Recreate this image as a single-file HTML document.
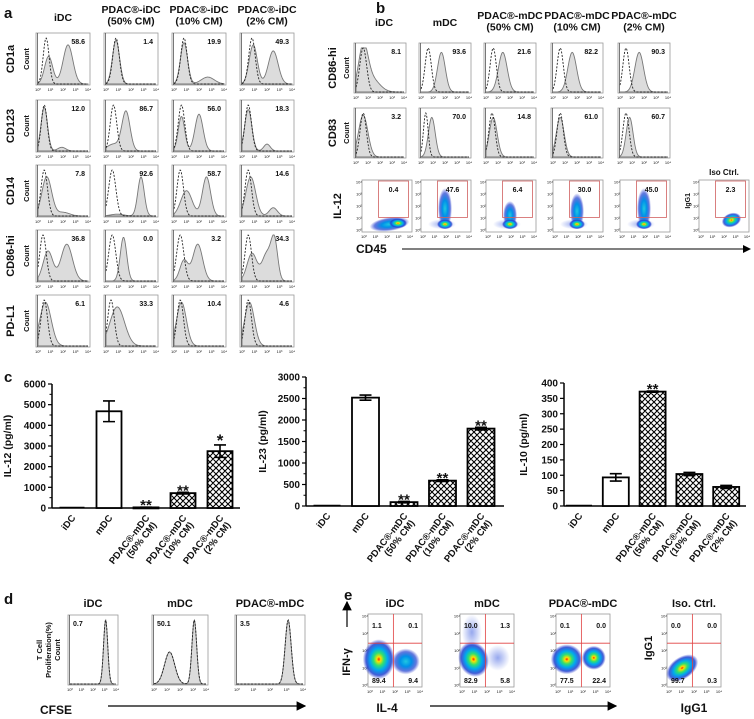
<!DOCTYPE html>
<html><head><meta charset="utf-8">
<style>
html,body{margin:0;padding:0;background:#fff;}
svg{display:block;font-family:"Liberation Sans",Arial,sans-serif;}
</style></head>
<body>
<svg id="fig" width="754" height="719" viewBox="0 0 754 719" xmlns="http://www.w3.org/2000/svg">
<defs>
<pattern id="hatch" patternUnits="userSpaceOnUse" width="6" height="6">
<rect width="6" height="6" fill="#fff"/>
<path d="M0,0 L6,6 M6,0 L0,6 M-1,5 L1,7 M5,-1 L7,1 M-1,1 L1,-1 M5,7 L7,5" stroke="#000" stroke-width="1.1"/>
</pattern>
<radialGradient id="dens">
<stop offset="0" stop-color="#ff2000"/>
<stop offset="0.12" stop-color="#ffe000"/>
<stop offset="0.32" stop-color="#30e070"/>
<stop offset="0.55" stop-color="#00a8f0"/>
<stop offset="0.8" stop-color="#2040d0" stop-opacity="0.85"/>
<stop offset="1" stop-color="#3040d0" stop-opacity="0"/>
</radialGradient>
<radialGradient id="densLow">
<stop offset="0" stop-color="#20c8e0"/>
<stop offset="0.4" stop-color="#0090e8"/>
<stop offset="0.75" stop-color="#2040d0" stop-opacity="0.7"/>
<stop offset="1" stop-color="#3040d0" stop-opacity="0"/>
</radialGradient>
<radialGradient id="scat">
<stop offset="0" stop-color="#4060e0" stop-opacity="0.55"/>
<stop offset="1" stop-color="#4060e0" stop-opacity="0"/>
</radialGradient>
<marker id="arr" markerWidth="8" markerHeight="8" refX="7" refY="4" orient="auto"><path d="M0,0 L8,4 L0,8 z" fill="#000"/></marker>
</defs>
</svg>
<script>
// ===== Bar chart data (panel c) =====
const categories = ["iDC","mDC","PDAC®-mDC|(50% CM)","PDAC®-mDC|(10% CM)","PDAC®-mDC|(2% CM)"];
const il12Values = [0, 4680, 30, 720, 2750];
const il12Errors = [0, 500, 10, 40, 300];
const il12Stars = ["", "", "**", "**", "*"];
const il12Ticks = [0, 1000, 2000, 3000, 4000, 5000, 6000];
const il23Values = [0, 2520, 90, 590, 1800];
const il23Errors = [0, 60, 15, 20, 30];
const il23Stars = ["", "", "**", "**", "**"];
const il23Ticks = [0, 500, 1000, 1500, 2000, 2500, 3000];
const il10Values = [2, 93, 372, 104, 62];
const il10Errors = [0, 12, 2, 5, 5];
const il10Stars = ["", "", "**", "", ""];
const il10Ticks = [0, 50, 100, 150, 200, 250, 300, 350, 400];

// ===== Histogram peak data [log position, relative height, width] =====
const aRows = ["CD1a","CD123","CD14","CD86-hi","PD-L1"];
const aCols = ["iDC","PDAC®-iDC|(50% CM)","PDAC®-iDC|(10% CM)","PDAC®-iDC|(2% CM)"];
const aPercents = [["58.6","1.4","19.9","49.3"],["12.0","86.7","56.0","18.3"],["7.8","92.6","58.7","14.6"],["36.8","0.0","3.2","34.3"],["6.1","33.3","10.4","4.6"]];
const aIso = [
 [[[0.65,1,0.18]],[[0.8,1,0.2]],[[0.8,1,0.2]],[[0.8,1,0.2]]],
 [[[0.5,1,0.18]],[[0.6,1,0.2]],[[0.6,1,0.2]],[[0.5,1,0.2]]],
 [[[0.5,1,0.2]],[[0.5,1,0.22]],[[0.5,1,0.2]],[[0.5,1,0.2]]],
 [[[0.4,1,0.2]],[[0.5,1,0.22]],[[0.5,1,0.22]],[[0.5,1,0.2]]],
 [[[0.5,1,0.2]],[[0.4,1,0.2]],[[0.5,1,0.2]],[[0.5,1,0.2]]]
];
const aSample = [
 [[[0.85,0.6,0.25],[2.4,0.85,0.3]],[[0.8,0.95,0.22]],[[0.8,0.9,0.22],[2.7,0.15,0.4]],[[0.9,0.85,0.25],[2.5,0.72,0.3]]],
 [[[0.5,0.95,0.2],[1.9,0.08,0.25]],[[0.6,0.15,0.4],[1.6,0.85,0.25]],[[0.6,0.75,0.2],[2.0,0.8,0.25]],[[0.5,0.9,0.22],[2.0,0.15,0.2]]],
 [[[0.7,0.85,0.3],[2.0,0.08,0.4]],[[2.8,0.85,0.2],[0.9,0.04,0.4]],[[1.0,0.55,0.35],[2.6,0.85,0.25]],[[0.7,0.85,0.3],[2.5,0.18,0.25]]],
 [[[0.8,0.65,0.3],[2.3,0.8,0.35]],[[1.4,0.95,0.2]],[[0.8,0.45,0.25],[1.9,0.8,0.3]],[[0.8,0.6,0.3],[2.0,0.6,0.3],[2.6,0.8,0.2]]],
 [[[0.6,0.95,0.35]],[[0.9,0.85,0.45]],[[0.6,0.95,0.3]],[[0.6,0.95,0.3]]]
];
const bCols = ["iDC","mDC","PDAC®-mDC|(50% CM)","PDAC®-mDC|(10% CM)","PDAC®-mDC|(2% CM)"];
const bRows = ["CD86-hi","CD83"];
const bPercents = [["8.1","93.6","21.6","82.2","90.3"],["3.2","70.0","14.8","61.0","60.7"]];
const bIl12Percents = ["0.4","47.6","6.4","30.0","45.0","2.3"];
const bIso = [
 [[[0.6,1,0.22]],[[0.6,1,0.2]],[[0.6,1,0.2]],[[0.6,1,0.2]],[[0.5,1,0.2]]],
 [[[0.6,1,0.2]],[[0.4,1,0.15]],[[0.5,1,0.2]],[[0.6,1,0.2]],[[0.5,1,0.2]]]
];
const bSample = [
 [[[0.6,0.95,0.3],[1.3,0.3,0.5]],[[1.7,0.9,0.25]],[[1.4,0.9,0.28]],[[1.6,0.9,0.28]],[[1.6,0.9,0.28]]],
 [[[0.6,0.95,0.3]],[[0.9,0.9,0.22]],[[0.6,0.9,0.25]],[[0.6,0.9,0.25]],[[0.8,0.9,0.22]]]
];
const dCols = ["iDC","mDC","PDAC®-mDC"];
const dPercents = ["0.7","50.1","3.5"];
const dPeaks = [[[3.1,1,0.14]],[[1.2,0.5,0.3],[3.1,1,0.14]],[[3.1,1,0.14]]];
const eCols = ["iDC","mDC","PDAC®-mDC","Iso. Ctrl."];
const eQuads = [["1.1","0.1","89.4","9.4"],["10.0","1.3","82.9","5.8"],["0.1","0.0","77.5","22.4"],["0.0","0.0","99.7","0.3"]];

const NS = "http://www.w3.org/2000/svg";
const svg = document.getElementById('fig');
function mk(tag, attrs, parent){
  const el = document.createElementNS(NS, tag);
  for (const k in attrs) el.setAttribute(k, attrs[k]);
  (parent||svg).appendChild(el);
  return el;
}
function txt(x,y,s,size,opts,parent){
  opts = opts||{};
  const el = mk('text',{x:x,y:y,'font-size':size,'font-weight':opts.w||'bold','text-anchor':opts.a||'middle',fill:'#111'},parent);
  if (opts.t) el.setAttribute('transform',opts.t);
  el.textContent = s;
  return el;
}
const WIDTH_SCALE = 1.3;
function gauss(peaks, v){
  let s=0; for (const p of peaks) s += p[1]*Math.exp(-0.5*Math.pow((v-p[0])/(p[2]*WIDTH_SCALE),2));
  return Math.min(s,1);
}
function tickLabels(x,y,w,parent){
  const sup=["⁰","¹","²","³","⁴"];
  for (let i=0;i<5;i++){
    const t = txt(x+i*w/4, y, "10"+sup[i], 4, {w:'normal'}, parent);
    
    
  }
}
function hist(x,y,w,h,iso,samp,pct,name,pctLeft){
  const g = mk('g',{});
  
  
  const box = mk('rect',{x:x,y:y,width:w,height:h,fill:'#fff',stroke:'#999','stroke-width':0.8},g);
  
  
  const base = y+h-1, N=90;
  const xs = v=>x+2+v/4*(w-4);
  let d = "M"+xs(0)+","+base;
  for (let i=0;i<=N;i++){ const v=4*i/N; d += " L"+xs(v).toFixed(2)+","+(base - gauss(samp,v)*(h-6)).toFixed(2); }
  d += " L"+xs(4)+","+base+" Z";
  const sp = mk('path',{d:d,fill:'#dcdcdc',stroke:'#777','stroke-width':0.9},g);
  
  
  if (iso){
    let di = "";
    for (let i=0;i<=N;i++){ const v=4*i/N; di += (i?" L":"M")+xs(v).toFixed(2)+","+(base - gauss(iso,v)*(h-6)).toFixed(2); }
    const ip = mk('path',{d:di,fill:'none',stroke:'#222','stroke-width':0.9,'stroke-dasharray':'2,1.5'},g);
    
    
  }
  const axl = mk('line',{x1:x+1.5,y1:y,x2:x+1.5,y2:y+h,stroke:'#555','stroke-width':0.8},g);
  
  
  const t = pctLeft ? txt(x+5,y+11,pct,7,{a:'start'},g) : txt(x+w-5,y+11,pct,7,{a:'end'},g);
  
  
  tickLabels(x+2,y+h+6,w-4,g);
}
function blob(g,cx,cy,rx,ry,grad,rot){
  const e = mk('ellipse',{cx:cx,cy:cy,rx:rx,ry:ry,fill:'url(#'+grad+')'},g);
  if (rot) e.setAttribute('transform','rotate('+rot+' '+cx+' '+cy+')');
  
  
}
function dotBox(x,y,w,h,name){
  const g = mk('g',{});
  
  
  const r = mk('rect',{x:x,y:y,width:w,height:h,fill:'#fff',stroke:'#999','stroke-width':0.8},g);
  
  
  tickLabels(x+2,y+h+6,w-4,g);
  const sup=["⁰","¹","²","³","⁴"];
  for (let i=0;i<5;i++){
    const t = txt(x-3, y+h-2-i*(h-4)/4+1.5, "10"+sup[i], 4, {w:'normal'}, g);
    
    
  }
  return g;
}
function header(x,y,s,size,name){
  const parts = s.split('|');
  parts.forEach((p,i)=>{
    const t = txt(x,y+i*size*1.1,p,size,{});
    
    
  });
}

// ===== Panel letters =====
[["a",4,18],["b",376,13],["c",4,382],["d",4,604],["e",344,600]].forEach(p=>{
  const t = txt(p[1],p[2],p[0],15,{a:'start'});
  
  
});

// ===== Panel a =====
const aX = [36,104,172,240], aY = [33,100,165,230,295], aW=54, aH=52;
aCols.forEach((c,j)=>{ header(aX[j]+aW/2, c.includes('|')?13:21, c, 10.5, 'column-header'); });
aRows.forEach((r,i)=>{
  const cy = aY[i]+aH/2;
  const t1 = txt(14,cy,r,11,{t:'rotate(-90 14 '+cy+')'});
  
  
  const t2 = txt(29,cy,"Count",7.5,{t:'rotate(-90 29 '+cy+')'});
  
  
  aCols.forEach((c,j)=>{ hist(aX[j],aY[i],aW,aH,aIso[i][j],aSample[i][j],aPercents[i][j],'histogram-'+r.toLowerCase()); });
});

// ===== Panel b =====
const bX = [354,419,484,551,618], bY=[43,108], bW=52, bH=50;
bCols.forEach((c,j)=>{ header(bX[j]+bW/2+(j===0?4:0), c.includes('|')?19:26, c, 10.5, 'column-header'); });
bRows.forEach((r,i)=>{
  const cy = bY[i]+bH/2;
  const t1 = txt(336,cy,r,11,{t:'rotate(-90 336 '+cy+')'});
  
  
  const t2 = txt(349,cy,"Count",7.5,{t:'rotate(-90 349 '+cy+')'});
  
  
  bCols.forEach((c,j)=>{ hist(bX[j],bY[i],bW,bH,bIso[i][j],bSample[i][j],bPercents[i][j],'histogram-'+r.toLowerCase()); });
});
// dot plots row
const dX = [362,421,486,553,620,699], dYt=180, dW=50, dH=52;
const il12 = txt(341,206,"IL-12",11,{t:'rotate(-90 341 206)'});


dX.forEach((x,j)=>{
  const g = dotBox(x,dYt,dW,dH,'il12-dot-plot');
  const by = dYt+dH*0.85, bx = x+dW*0.72;
  if (j===0){ blob(g,x+dW*0.55,by,20,7,'densLow',-8); blob(g,bx,by-1,9,5,'dens',0); }
  else if (j===5){ blob(g,x+dW*0.65,dYt+dH*0.77,10,7,'dens',-20); }
  else {
    const streak = [0,0.6,0.35,0.5,0.6][j];
    blob(g,x+dW*0.48,dYt+dH*(0.85-streak/2),7,dH*streak/2+5,'densLow',0);
    blob(g,x+dW*0.42,by,14,5,'scat',0);
    blob(g,x+dW*0.48,by,8,5,'dens',0);
  }
  const gate = mk('rect',{x:x+dW*0.33,y:dYt+1,width:dW*0.6,height:dH*0.7,fill:'none',stroke:'#d06060','stroke-width':0.8},g);
  
  
  const t = txt(x+dW*0.63,dYt+12,bIl12Percents[j],7,{},g);
  
  
  if (j===5){
    const ig = txt(x-9,dYt+dH*0.4,"IgG1",7,{t:'rotate(-90 '+(x-9)+' '+(dYt+dH*0.4)+')'});
    
    
    const iso = txt(x+dW/2,dYt-5,"Iso Ctrl.",8);
    
    
  }
});
const cd45 = txt(356,253,"CD45",12,{a:'start'});


const arrB = mk('line',{x1:402,y1:249,x2:750,y2:249,stroke:'#000','stroke-width':1,'marker-end':'url(#arr)'});



// ===== Panel c bar charts =====
function barChart(cfg){
  const g = mk('g',{});
  
  
  const yMax = cfg.ticks[cfg.ticks.length-1];
  const yS = v => cfg.y0 - v/yMax*(cfg.y0-cfg.yTop);
  const xS = i => cfg.first + i*cfg.pitch;
  const ya = mk('line',{x1:cfg.ax,y1:cfg.yTop,x2:cfg.ax,y2:cfg.y0,stroke:'#000','stroke-width':1.5},g);
  
  
  const xa = mk('line',{x1:cfg.ax,y1:cfg.y0,x2:cfg.end,y2:cfg.y0,stroke:'#000','stroke-width':1.5},g);
  
  
  cfg.ticks.forEach((t,k)=>{
    const y = yS(t);
    const tk = mk('line',{x1:cfg.ax-4,y1:y,x2:cfg.ax,y2:y,stroke:'#000','stroke-width':1.2},g);
    
    
    const lb = txt(cfg.ax-6,y+3.5,String(t),10,{a:'end'},g);
    
    
    if (k<cfg.ticks.length-1 && cfg.minor){
      const ym = yS((t+cfg.ticks[k+1])/2);
      const mt = mk('line',{x1:cfg.ax-2.5,y1:ym,x2:cfg.ax,y2:ym,stroke:'#000','stroke-width':1},g);
      
      
    }
  });
  const my = (cfg.y0+cfg.yTop)/2;
  const yl = txt(cfg.labX,my,cfg.label,10.5,{t:'rotate(-90 '+cfg.labX+' '+my+')'},g);
  
  
  cfg.values.forEach((v,i)=>{
    const cx = xS(i), bw = cfg.bw;
    const top = yS(v);
    if (i===0){
      const l = mk('line',{x1:cx-bw/2,y1:cfg.y0-0.5,x2:cx+bw/2,y2:cfg.y0-0.5,stroke:'#000','stroke-width':1.5},g);
      
      
    } else {
      const b = mk('rect',{x:cx-bw/2,y:top,width:bw,height:Math.max(cfg.y0-top,1),fill:i===1?'#fff':'url(#hatch)',stroke:'#000','stroke-width':1.8},g);
      
      
    }
    const e = cfg.errors[i];
    if (e>0){
      const e1 = yS(v+e), e2 = yS(v-e);
      const eb = mk('path',{d:`M${cx},${e1} L${cx},${e2} M${cx-6},${e1} L${cx+6},${e1} M${cx-6},${e2} L${cx+6},${e2}`,stroke:'#000','stroke-width':1.6,fill:'none'},g);
      
      
    }
    if (cfg.stars[i]){
      const s = txt(cx,yS(v+e)-3+ (cfg.stars[i]==='*'?4:6),cfg.stars[i],cfg.stars[i]==='*'?17:15,{},g);
      
      
    }
    const parts = categories[i].split('|');
    const ly = cfg.y0+10;
    parts.forEach((p,k)=>{
      const ox = cx+4 + k*7, oy = ly + k*7;
      const t = txt(ox,oy,p,9.5,{a:'end',t:'rotate(-52 '+ox+' '+oy+')'},g);
      
      
    });
  });
}
barChart({name:'il12-bar-chart',ax:52,end:240,y0:508,yTop:384,first:72,pitch:37,bw:25,ticks:il12Ticks,values:il12Values,errors:il12Errors,stars:il12Stars,label:'IL-12 (pg/ml)',labX:11,minor:true});
barChart({name:'il23-bar-chart',ax:306,end:504,y0:506,yTop:377,first:327,pitch:38.5,bw:27,ticks:il23Ticks,values:il23Values,errors:il23Errors,stars:il23Stars,label:'IL-23 (pg/ml)',labX:266,minor:true});
barChart({name:'il10-bar-chart',ax:564,end:746,y0:506,yTop:383,first:579,pitch:36.8,bw:26,ticks:il10Ticks,values:il10Values,errors:il10Errors,stars:il10Stars,label:'IL-10 (pg/ml)',labX:527,minor:false});

// ===== Panel d =====
const dBoxX = [68,152,235], dBoxW=[50,56,70], dBy=615, dBh=70;
dCols.forEach((c,j)=>{
  header(dBoxX[j]+dBoxW[j]/2,607,c,11,'column-header');
  hist(dBoxX[j],dBy,dBoxW[j],dBh,dPeaks[j],dPeaks[j],dPercents[j],'cfse-histogram',true);
});
[["T Cell",42],["Proliferation(%)",51],["Count",60]].forEach(l=>{
  const t = txt(l[1],650,l[0],7.5,{t:'rotate(-90 '+l[1]+' 650)'});
  
  
});
const cfse = txt(40,714,"CFSE",12,{a:'start'});


const arrD = mk('line',{x1:108,y1:706,x2:305,y2:706,stroke:'#000','stroke-width':1.2,'marker-end':'url(#arr)'});



// ===== Panel e =====
const eX=[368,460,556,667], eY=614, eW=54, eH=73;
eCols.forEach((c,j)=>{
  header(eX[j]+eW/2,607,c,11,'column-header');
  const x=eX[j], g = dotBox(x,eY,eW,eH,'ifn-il4-dot-plot');
  const qx = x+eW*0.47, qy = eY+eH*0.4;
  if (j===0){ blob(g,x+eW*0.2,eY+eH*0.62,16,20,'dens',0); blob(g,x+eW*0.7,eY+eH*0.65,14,13,'densLow',0); }
  if (j===1){ blob(g,x+eW*0.22,eY+eH*0.25,10,18,'scat',0); blob(g,x+eW*0.25,eY+eH*0.62,15,18,'dens',-20); blob(g,x+eW*0.7,eY+eH*0.6,12,13,'scat',0); }
  if (j===2){ blob(g,x+eW*0.2,eY+eH*0.62,16,15,'dens',0); blob(g,x+eW*0.7,eY+eH*0.6,12,12,'dens',0); }
  if (j===3){ blob(g,x+eW*0.28,eY+eH*0.74,18,11,'dens',-35); }
  const vl = mk('line',{x1:qx,y1:eY,x2:qx,y2:eY+eH,stroke:'#e04040','stroke-width':0.8},g);
  
  
  const hl = mk('line',{x1:x,y1:qy,x2:x+eW,y2:qy,stroke:'#e04040','stroke-width':0.8},g);
  
  
  const q = eQuads[j];
  [[x+4,eY+14,'start',q[0]],[x+eW-4,eY+14,'end',q[1]],[x+4,eY+eH-4,'start',q[2]],[x+eW-4,eY+eH-4,'end',q[3]]].forEach(p=>{
    const t = txt(p[0],p[1],p[3],7,{a:p[2]},g);
    
    
  });
});
const ifn = txt(350,662,"IFN-γ",11,{t:'rotate(-90 350 662)'});


const arrE1 = mk('line',{x1:347,y1:627,x2:347,y2:602,stroke:'#000','stroke-width':1.2,'marker-end':'url(#arr)'});


const il4 = txt(387,712,"IL-4",12);


const arrE2 = mk('line',{x1:430,y1:706,x2:616,y2:706,stroke:'#000','stroke-width':1.2,'marker-end':'url(#arr)'});


const igy = txt(652,648,"IgG1",11,{t:'rotate(-90 652 648)'});


const igx = txt(694,712,"IgG1",12);


</script>
</body></html>
